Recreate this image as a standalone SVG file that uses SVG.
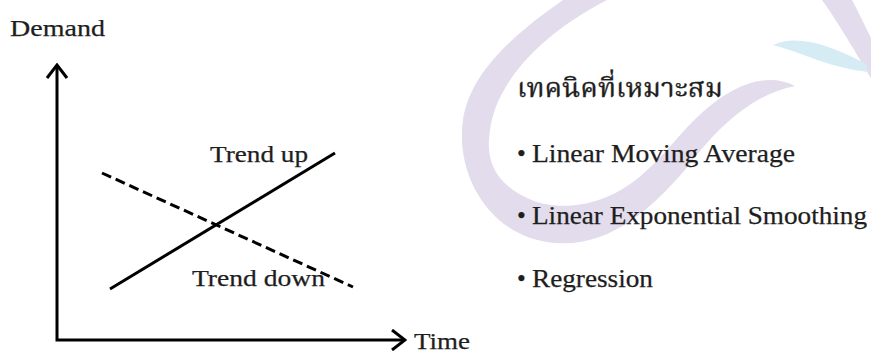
<svg xmlns="http://www.w3.org/2000/svg" width="871" height="356" viewBox="0 0 871 356">
  <style>
    .lbl { font-family: "Liberation Serif", "Times New Roman", serif; fill: #1e1e1e; stroke: #1e1e1e; stroke-width: 0.25; }
    .thai { font-family: "Noto Serif Thai", "Noto Sans Thai", "Noto Sans", "DejaVu Sans", sans-serif; fill: #1e1e1e; stroke: #1e1e1e; stroke-width: 0.3; }
    .ax { fill: none; stroke: #000; stroke-width: 3; }
    .trend { fill: none; stroke: #000; stroke-width: 3; }
    .dash { stroke-dasharray: 10 5; }
    .purple { fill: #e3dcec; }
    .blue { fill: #d6ecf5; }
  </style>
  <defs>
    <marker id="chev" viewBox="0 0 16 22" refX="14" refY="11" markerWidth="16" markerHeight="22" markerUnits="userSpaceOnUse" orient="auto-start-reverse">
      <path d="M1,1 L14,11 L1,21" fill="none" stroke="#000" stroke-width="3"/>
    </marker>
  </defs>
  <rect width="871" height="356" fill="#ffffff"/>

  <g id="background">
    <path class="purple" d="M563,0 C520,30 470,70 463,120 C455,175 490,238 555,243 C610,247 650,210 685,170 C715,130 750,95 795,86 C765,70 730,88 705,110 C680,132 665,155 645,172 C610,205 560,215 525,197 C495,182 485,160 490,130 C495,90 530,40 607,0 Z"/>
    <path class="purple" d="M822,0 L852,0 C860,15 866,28 871,38 L871,78 C860,60 840,25 822,0 Z"/>
    <path class="blue" d="M773,45 C795,35 825,42 866,64 L868,72 C830,68 800,52 773,45 Z"/>
  </g>

  <g id="connectors">
    <path id="axes" class="ax" d="M57,65 L57,340 L405,340" marker-start="url(#chev)" marker-end="url(#chev)"/>
    <line id="trend-up-line" class="trend" x1="110" y1="289" x2="335" y2="153"/>
    <line id="trend-down-line" class="trend dash" x1="102" y1="173" x2="353" y2="287"/>
  </g>

  <g id="axis-labels">
    <text id="demand" class="lbl" x="10" y="36" font-size="24" textLength="95" lengthAdjust="spacingAndGlyphs">Demand</text>
    <text id="time" class="lbl" x="414" y="349" font-size="24" textLength="56" lengthAdjust="spacingAndGlyphs">Time</text>
  </g>

  <g id="trend-up">
    <text class="lbl" x="210" y="162" font-size="24" textLength="98" lengthAdjust="spacingAndGlyphs">Trend up</text>
  </g>
  <g id="trend-down">
    <text class="lbl" x="192" y="286" font-size="24" textLength="133" lengthAdjust="spacingAndGlyphs">Trend down</text>
  </g>

  <g id="techniques">
    <text class="thai" x="517" y="97" font-size="26" textLength="206" lengthAdjust="spacingAndGlyphs">เทคนิคที่เหมาะสม</text>
    <text class="lbl" y="162" font-size="25"><tspan x="517">•</tspan><tspan x="532" textLength="263" lengthAdjust="spacingAndGlyphs">Linear Moving Average</tspan></text>
    <text class="lbl" y="224" font-size="25"><tspan x="517">•</tspan><tspan x="532" textLength="335" lengthAdjust="spacingAndGlyphs">Linear Exponential Smoothing</tspan></text>
    <text class="lbl" y="287" font-size="25"><tspan x="517">•</tspan><tspan x="532" textLength="121" lengthAdjust="spacingAndGlyphs">Regression</tspan></text>
  </g>
</svg>
